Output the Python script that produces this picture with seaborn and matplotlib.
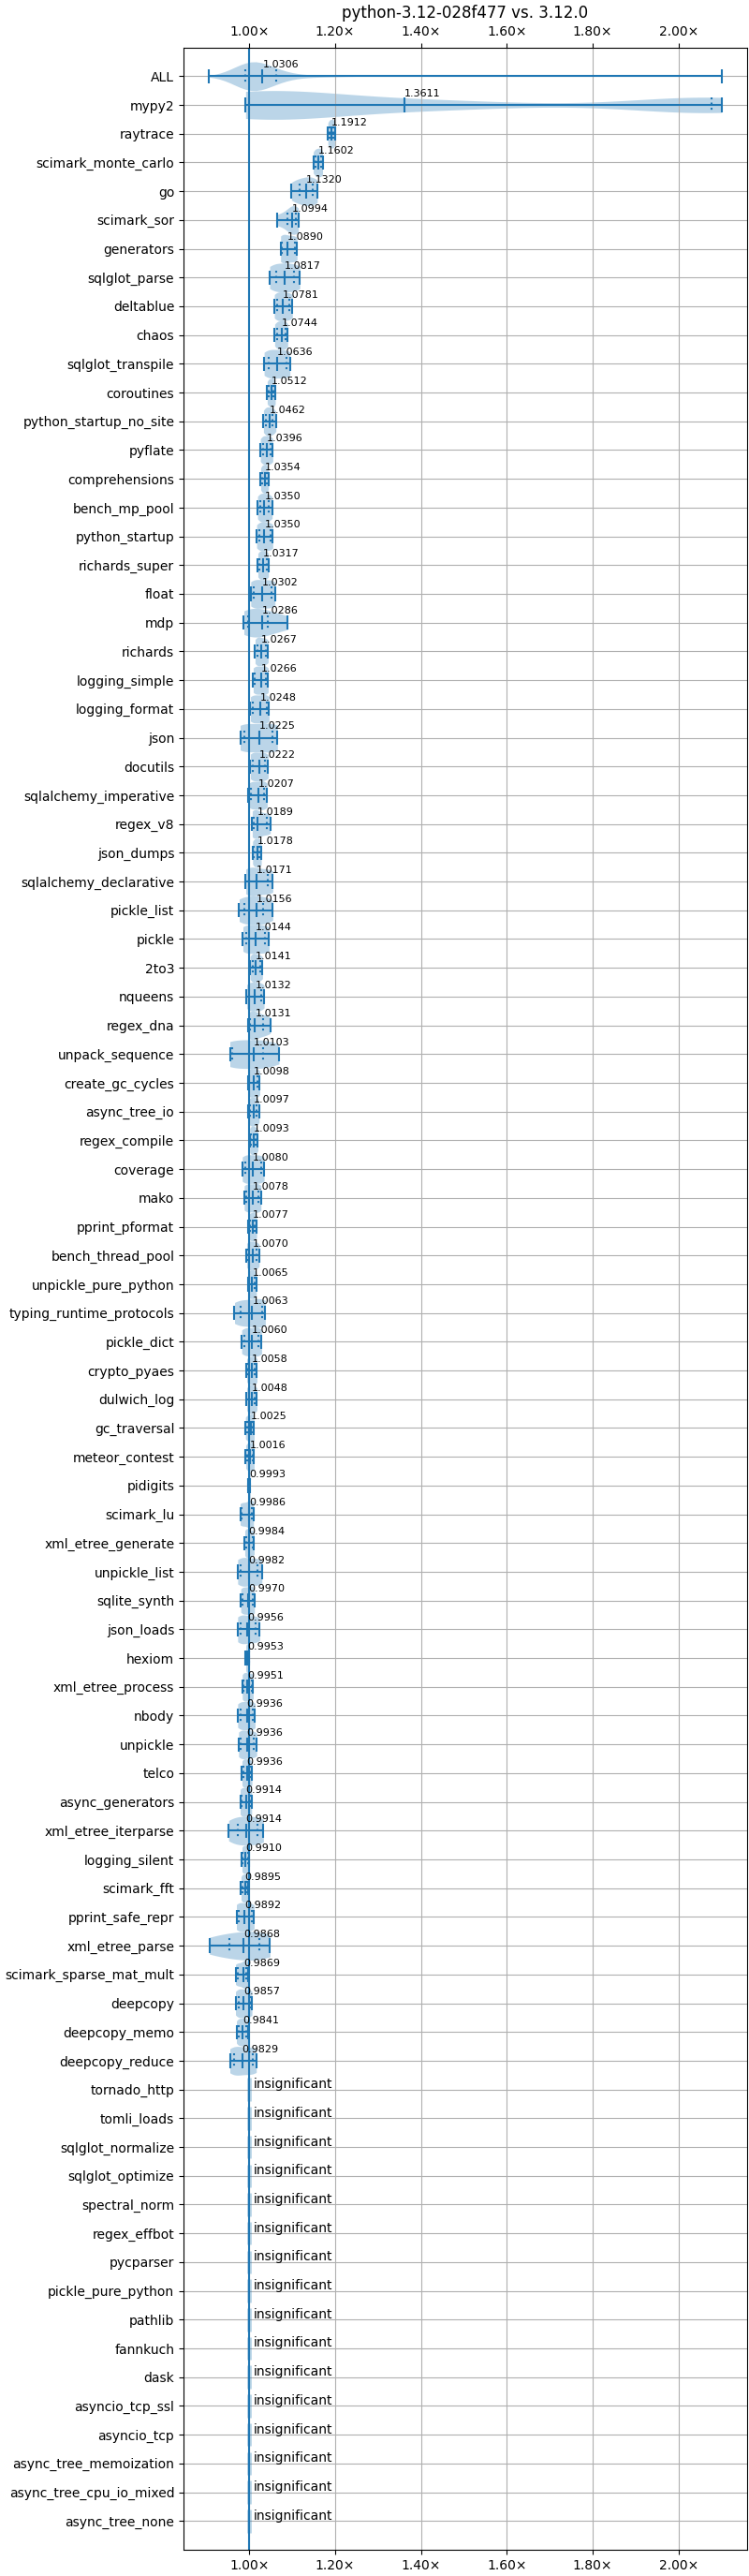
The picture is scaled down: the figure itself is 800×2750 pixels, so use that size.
import numpy as np
import pandas as pd
import matplotlib
matplotlib.use("Agg")
import matplotlib.pyplot as plt
import seaborn as sns
from matplotlib.ticker import FuncFormatter, MultipleLocator

# Benchmarks with a significant change (ALL first)
names = ["ALL", "mypy2", "raytrace", "scimark_monte_carlo", "go", "scimark_sor",
         "generators", "sqlglot_parse", "deltablue", "chaos", "sqlglot_transpile",
         "coroutines", "python_startup_no_site", "pyflate", "comprehensions",
         "bench_mp_pool", "python_startup", "richards_super", "float", "mdp",
         "richards", "logging_simple", "logging_format", "json", "docutils",
         "sqlalchemy_imperative", "regex_v8", "json_dumps", "sqlalchemy_declarative",
         "pickle_list", "pickle", "2to3", "nqueens", "regex_dna", "unpack_sequence",
         "create_gc_cycles", "async_tree_io", "regex_compile", "coverage", "mako",
         "pprint_pformat", "bench_thread_pool", "unpickle_pure_python",
         "typing_runtime_protocols", "pickle_dict", "crypto_pyaes", "dulwich_log",
         "gc_traversal", "meteor_contest", "pidigits", "scimark_lu",
         "xml_etree_generate", "unpickle_list", "sqlite_synth", "json_loads", "hexiom",
         "xml_etree_process", "nbody", "unpickle", "telco", "async_generators",
         "xml_etree_iterparse", "logging_silent", "scimark_fft", "pprint_safe_repr",
         "xml_etree_parse", "scimark_sparse_mat_mult", "deepcopy", "deepcopy_memo",
         "deepcopy_reduce"]

means = [1.0306, 1.3611, 1.1912, 1.1602, 1.1320, 1.0994, 1.0890, 1.0817, 1.0781, 1.0744,
         1.0636, 1.0512, 1.0462, 1.0396, 1.0354, 1.0350, 1.0350, 1.0317, 1.0302, 1.0286,
         1.0267, 1.0266, 1.0248, 1.0225, 1.0222, 1.0207, 1.0189, 1.0178, 1.0171, 1.0156,
         1.0144, 1.0141, 1.0132, 1.0131, 1.0103, 1.0098, 1.0097, 1.0093, 1.0080, 1.0078,
         1.0077, 1.0070, 1.0065, 1.0063, 1.0060, 1.0058, 1.0048, 1.0025, 1.0016, 0.9993,
         0.9986, 0.9984, 0.9982, 0.9970, 0.9956, 0.9953, 0.9951, 0.9936, 0.9936, 0.9936,
         0.9914, 0.9914, 0.9910, 0.9895, 0.9892, 0.9868, 0.9869, 0.9857, 0.9841, 0.9829]

lo = [0.906, 0.991, 1.1826, 1.1486, 1.0978, 1.0652, 1.0725, 1.0471, 1.0580, 1.0587,
      1.0341, 1.0413, 1.0326, 1.0254, 1.0261, 1.0188, 1.0167, 1.0196, 1.0029, 0.9870,
      1.0130, 1.0087, 1.0022, 0.9783, 1.0022, 0.9978, 1.0065, 1.0072, 0.9913, 0.9761,
      0.9848, 1.0014, 0.9935, 0.9978, 0.9543, 0.9964, 0.9978, 1.0007, 0.9833, 0.9877,
      0.9978, 0.9935, 0.9971, 0.9652, 0.9819, 0.9935, 0.9935, 0.9906, 0.9913, 0.9964,
      0.9783, 0.9891, 0.9725, 0.9797, 0.9725, 0.9913, 0.9833, 0.9725, 0.9746, 0.9826,
      0.9783, 0.9514, 0.9826, 0.9804, 0.9696, 0.9065, 0.9674, 0.9674, 0.9696, 0.9543]

q10 = [0.991, 0.998, 1.1862, 1.1536, 1.1159, 1.0891, 1.0761, 1.0616, 1.0652, 1.0652,
       1.0457, 1.0449, 1.0384, 1.0312, 1.0297, 1.0254, 1.0239, 1.0239, 1.0109, 0.9964,
       1.0181, 1.0130, 1.0072, 0.9877, 1.0072, 1.0036, 1.0109, 1.0109, 1.0000, 0.9891,
       0.9928, 1.0072, 1.0000, 1.0022, 0.9601, 1.0000, 1.0014, 1.0036, 0.9906, 0.9928,
       1.0007, 0.9978, 1.0000, 0.9804, 0.9891, 0.9978, 0.9986, 0.9942, 0.9949, 0.9971,
       0.9819, 0.9920, 0.9804, 0.9841, 0.9783, 0.9928, 0.9870, 0.9790, 0.9804, 0.9862,
       0.9819, 0.9732, 0.9848, 0.9833, 0.9746, 0.9529, 0.9725, 0.9746, 0.9746, 0.9638]

q90 = [1.063, 2.076, 1.1957, 1.1667, 1.1471, 1.1080, 1.1051, 1.1036, 1.0928, 1.0833,
       1.0855, 1.0565, 1.0543, 1.0493, 1.0399, 1.0457, 1.0486, 1.0399, 1.0507, 1.0435,
       1.0384, 1.0384, 1.0399, 1.0543, 1.0362, 1.0341, 1.0399, 1.0239, 1.0435, 1.0326,
       1.0362, 1.0254, 1.0268, 1.0326, 1.0326, 1.0196, 1.0167, 1.0152, 1.0268, 1.0217,
       1.0123, 1.0167, 1.0123, 1.0297, 1.0217, 1.0130, 1.0130, 1.0080, 1.0080, 1.0014,
       1.0058, 1.0080, 1.0196, 1.0072, 1.0145, 0.9986, 1.0058, 1.0072, 1.0109, 1.0022,
       1.0022, 1.0196, 0.9964, 0.9949, 1.0051, 1.0225, 0.9935, 1.0014, 0.9920, 1.0072]

hi = [2.100, 2.100, 1.1993, 1.1703, 1.1580, 1.1138, 1.1109, 1.1174, 1.1000, 1.0891,
      1.0942, 1.0601, 1.0616, 1.0543, 1.0442, 1.0529, 1.0543, 1.0442, 1.0594, 1.0891,
      1.0435, 1.0435, 1.0457, 1.0652, 1.0435, 1.0413, 1.0486, 1.0275, 1.0543, 1.0543,
      1.0457, 1.0304, 1.0341, 1.0486, 1.0688, 1.0239, 1.0225, 1.0196, 1.0341, 1.0268,
      1.0167, 1.0225, 1.0160, 1.0370, 1.0283, 1.0174, 1.0174, 1.0109, 1.0109, 1.0022,
      1.0094, 1.0109, 1.0290, 1.0116, 1.0239, 1.0000, 1.0087, 1.0130, 1.0167, 1.0058,
      1.0051, 1.0326, 0.9986, 0.9978, 1.0109, 1.0478, 0.9964, 1.0058, 0.9964, 1.0159]

# mypy2 is bimodal: estimated sample spread
mypy2_samples = [0.991, 0.995, 0.998, 1.0, 1.03, 1.08, 1.15, 1.25, 1.38, 1.52,
                 2.0, 2.06, 2.09, 2.10]

# Benchmarks without a significant change
insignificant = ["tornado_http", "tomli_loads", "sqlglot_normalize", "sqlglot_optimize",
                 "spectral_norm", "regex_effbot", "pycparser", "pickle_pure_python",
                 "pathlib", "fannkuch", "dask", "asyncio_tcp_ssl", "asyncio_tcp",
                 "async_tree_memoization", "async_tree_cpu_io_mixed", "async_tree_none"]

order = names + insignificant

# long-form samples for the violin bodies; ALL pools every benchmark
rows = []
for i, name in enumerate(names):
    if name == "ALL":
        continue
    vals = mypy2_samples if name == "mypy2" else (lo[i], q10[i], means[i], q90[i], hi[i])
    for v in vals:
        rows.append((name, v))
df = pd.DataFrame(rows, columns=["benchmark", "ratio"])
df = pd.concat([df.assign(benchmark="ALL"), df], ignore_index=True)
is_mypy = df["benchmark"] == "mypy2"

fig, ax = plt.subplots(figsize=(8, 27.5), dpi=100)
fig.subplots_adjust(left=0.245, right=0.9975, top=0.9816, bottom=0.0102)

violin_kw = dict(x="ratio", y="benchmark", order=order, orient="h", cut=0,
                 density_norm="width", width=1.0, inner=None, color="C0",
                 saturation=1, linewidth=0, alpha=0.3, ax=ax)
sns.violinplot(data=df[~is_mypy], **violin_kw)
sns.violinplot(data=df[is_mypy], bw_method=0.36, **violin_kw)

pos = np.arange(len(names))
ax.hlines(pos, lo, hi, color="C0", lw=1.5)
for arr, ls in [(lo, "-"), (hi, "-"), (means, "-"), (q10, ":"), (q90, ":")]:
    ax.vlines(arr, pos - 0.25, pos + 0.25, color="C0", lw=1.5, linestyles=ls)

for i, m in enumerate(means):
    ax.text(m, i - 0.3, f"{m:.4f}", fontsize=8)

ipos = np.arange(len(names), len(order))
ax.vlines(np.ones(len(ipos)), ipos - 0.4, ipos + 0.4, color="C0", alpha=0.3, lw=3.5)
for i in ipos:
    ax.text(1.01, i - 0.05, "insignificant", fontsize=10)

ax.axvline(1.0, color="C0", lw=1.5)

span = max(hi) - min(lo)
ax.set_xlim(min(lo) - 0.05 * span, max(hi) + 0.05 * span)
ax.set_ylim(len(order), -1)
ax.xaxis.set_major_locator(MultipleLocator(0.2))
ax.xaxis.set_major_formatter(FuncFormatter(lambda x, p: f"{x:.2f}\u00d7"))
ax.tick_params(axis="x", top=True, labeltop=True)
ax.grid(True)
ax.set_xlabel("")
ax.set_ylabel("")
ax.set_title("python-3.12-028f477 vs. 3.12.0")

fig.savefig("out.png", dpi=100)
